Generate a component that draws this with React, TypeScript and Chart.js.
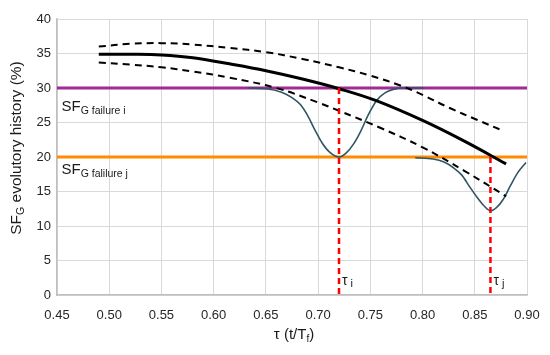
import React, { useEffect, useRef } from "react";
import { Chart, registerables } from "chart.js";

Chart.register(...registerables);

// ---- data ----
const meanTau = [0.49, 0.52, 0.55, 0.58, 0.615, 0.65, 0.685, 0.72, 0.755, 0.8, 0.84, 0.88];
const meanSF = [34.9, 34.9, 34.8, 34.4, 33.5, 32.5, 31.3, 29.9, 28.2, 25.3, 22.3, 19.0];

const upperTau = [0.49, 0.52, 0.55, 0.58, 0.615, 0.65, 0.685, 0.72, 0.75, 0.778, 0.8, 0.826, 0.852, 0.877];
const upperSF = [36.0, 36.4, 36.5, 36.3, 35.8, 35.2, 34.2, 33.0, 31.8, 30.4, 29.0, 27.1, 25.4, 23.8];

const lowerTau = [0.49, 0.52, 0.55, 0.58, 0.615, 0.66, 0.7, 0.72, 0.76, 0.8, 0.84, 0.88];
const lowerSF = [33.7, 33.4, 33.0, 32.4, 31.5, 30.0, 27.9, 26.7, 24.2, 21.4, 18.0, 14.3];

const dipITau = [0.633, 0.65, 0.665, 0.675, 0.683, 0.69, 0.697, 0.704, 0.711, 0.72, 0.727, 0.734, 0.741, 0.748, 0.756, 0.764, 0.772, 0.782, 0.802];
const dipISF = [30.0, 29.9, 29.4, 28.6, 27.6, 26.0, 23.9, 22.0, 20.7, 20.0, 20.6, 21.9, 23.8, 26.1, 28.2, 29.3, 29.8, 30.0, 30.0];

const dipJTau = [0.793, 0.81, 0.82, 0.83, 0.838, 0.845, 0.852, 0.859, 0.865, 0.871, 0.877, 0.884, 0.891, 0.899];
const dipJSF = [19.9, 19.7, 19.3, 18.4, 17.3, 15.7, 14.2, 12.9, 12.2, 12.7, 13.8, 15.8, 17.7, 19.2];

const failureI = 30;
const failureJ = 20;
const tauI = 0.72;
const tauJ = 0.865;

const xMin = 0.45;
const xMax = 0.9;
const xStep = 0.05;
const yMin = 0;
const yMax = 40;
const yStep = 5;

const FONT = "'Liberation Sans', Arial, sans-serif";

const pts = (xs: number[], ys: number[]) => xs.map((x, i) => ({ x, y: ys[i] }));

function drawSub(
  ctx: CanvasRenderingContext2D,
  parts: { t: string; sub?: boolean }[],
  x: number,
  y: number,
  size: number,
  subSize: number,
  subDrop: number,
  align: "left" | "center" = "left"
) {
  const widths = parts.map((p) => {
    ctx.font = `${p.sub ? subSize : size}px ${FONT}`;
    return ctx.measureText(p.t).width;
  });
  const total = widths.reduce((a, b) => a + b, 0);
  let cx = align === "center" ? x - total / 2 : x;
  ctx.textAlign = "left";
  ctx.textBaseline = "alphabetic";
  parts.forEach((p, i) => {
    ctx.font = `${p.sub ? subSize : size}px ${FONT}`;
    ctx.fillText(p.t, cx, p.sub ? y + subDrop : y);
    cx += widths[i];
  });
}

const textPlugin = {
  id: "textPlugin",
  afterDraw(chart: any) {
    const { ctx, scales } = chart;
    const xs = scales.x;
    const ys = scales.y;
    ctx.save();
    ctx.fillStyle = "#1a1a1a";
    // failure labels
    drawSub(ctx, [{ t: "SF" }, { t: "G failure i", sub: true }], xs.left + 4.5, ys.getPixelForValue(failureI) + 22.5, 15, 10.5, 3);
    drawSub(ctx, [{ t: "SF" }, { t: "G falilure j", sub: true }], xs.left + 4.5, ys.getPixelForValue(failureJ) + 17, 15, 10.5, 3);
    // tau labels
    const yb = ys.getPixelForValue(yMin) - 10;
    drawSub(ctx, [{ t: "τ" }, { t: " i", sub: true }], xs.getPixelForValue(tauI) + 3, yb, 14, 11, 2);
    drawSub(ctx, [{ t: "τ" }, { t: " j", sub: true }], xs.getPixelForValue(tauJ) + 3, yb, 14, 11, 2);
    // x title
    drawSub(
      ctx,
      [{ t: "τ (t/T" }, { t: "f", sub: true }, { t: ")" }],
      (xs.left + xs.right) / 2 + 2,
      339,
      15,
      10,
      3,
      "center"
    );
    // y title
    ctx.translate(21, 148);
    ctx.rotate(-Math.PI / 2);
    drawSub(
      ctx,
      [{ t: "SF" }, { t: "G", sub: true }, { t: " evolutory history (%)" }],
      0,
      0,
      15.5,
      10.5,
      3,
      "center"
    );
    ctx.restore();
  },
};

export default function App() {
  const ref = useRef<HTMLCanvasElement>(null);
  useEffect(() => {
    document.body.style.margin = "0";
    const canvas = ref.current!;
    const line = (data: any[], color: string, width: number, order: number, extra: any = {}) => ({
      data,
      borderColor: color,
      backgroundColor: color,
      borderWidth: width,
      pointRadius: 0,
      fill: false,
      order,
      ...extra,
    });
    const chart = new Chart(canvas, {
      type: "line",
      data: {
        datasets: [
          line([{ x: tauI, y: failureI }, { x: tauI, y: yMin }], "#FF0000", 2.5, 0, { borderDash: [6, 4] }),
          line([{ x: tauJ, y: failureJ }, { x: tauJ, y: yMin }], "#FF0000", 2.5, 0, { borderDash: [6, 4] }),
          line(pts(meanTau, meanSF), "#000000", 3, 1, { tension: 0.4 }),
          line(pts(upperTau, upperSF), "#000000", 2, 2, { borderDash: [7, 5], tension: 0.4 }),
          line(pts(lowerTau, lowerSF), "#000000", 2, 2, { borderDash: [7, 5], tension: 0.4 }),
          line(pts(dipITau, dipISF), "#2E5666", 1.6, 3, { cubicInterpolationMode: "monotone" }),
          line(pts(dipJTau, dipJSF), "#2E5666", 1.6, 3, { cubicInterpolationMode: "monotone" }),
          line([{ x: xMin, y: failureI }, { x: xMax, y: failureI }], "#A02B93", 3, 4),
          line([{ x: xMin, y: failureJ }, { x: xMax, y: failureJ }], "#FF8C00", 3, 4),
        ],
      },
      options: {
        animation: false,
        responsive: false,
        parsing: false as any,
        layout: { padding: { left: 0, right: 23, top: 19, bottom: 0 } },
        plugins: { legend: { display: false }, tooltip: { enabled: false } },
        scales: {
          x: {
            type: "linear",
            min: xMin,
            max: xMax,
            ticks: {
              stepSize: xStep,
              color: "#262626",
              font: { family: FONT, size: 13 },
              padding: 8,
              maxRotation: 0,
              callback: (v: any) => Number(v).toFixed(2),
            },
            grid: { color: "#D9D9D9", lineWidth: 1, drawTicks: true, tickLength: 5, tickColor: "rgba(0,0,0,0)" },
            border: { color: "#BFBFBF", width: 1.5 },
            afterFit: (s: any) => {
              s.height = 60;
            },
          },
          y: {
            type: "linear",
            min: yMin,
            max: yMax,
            ticks: {
              stepSize: yStep,
              color: "#262626",
              font: { family: FONT, size: 13 },
              padding: 6,
            },
            grid: { color: "#D9D9D9", lineWidth: 1, drawTicks: false },
            border: { color: "#BFBFBF", width: 1.5 },
            afterFit: (s: any) => {
              s.width = 57;
            },
          },
        },
      },
      plugins: [textPlugin],
    } as any);
    return () => chart.destroy();
  }, []);
  return (
    <div style={{ width: 550, height: 355 }}>
      <canvas ref={ref} width={550} height={355} />
    </div>
  );
}
